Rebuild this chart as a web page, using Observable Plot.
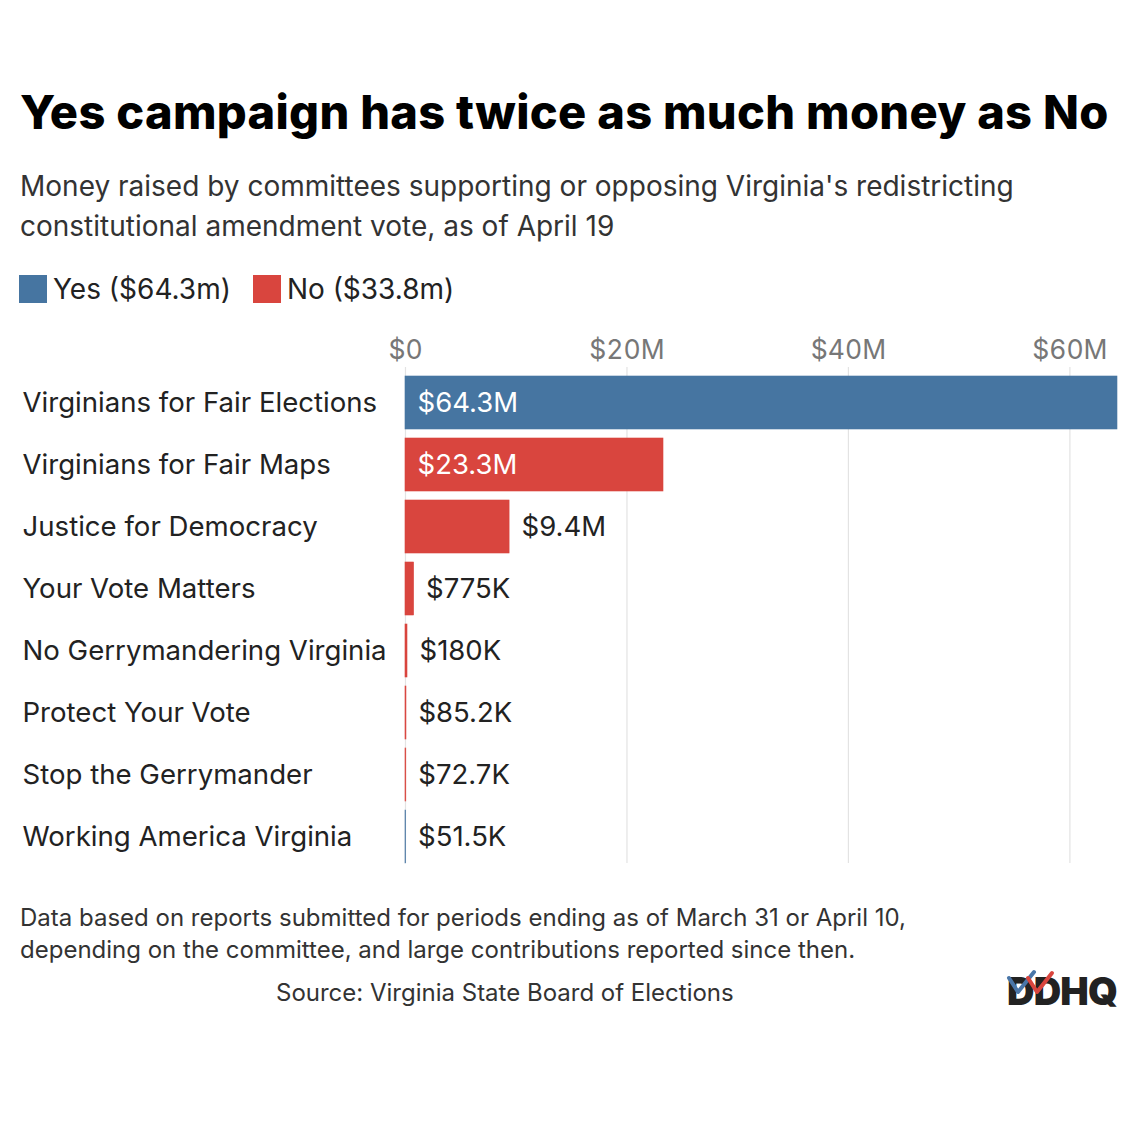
<!DOCTYPE html>
<html>
<head>
<meta charset="utf-8">
<script src="https://cdn.jsdelivr.net/npm/d3@7"></script>
<script src="https://cdn.jsdelivr.net/npm/@observablehq/plot@0.6"></script>
<style>
  html, body { margin: 0; padding: 0; background: #fff; }
  body { width: 1140px; height: 1140px; position: relative; font-family: Inter, "Noto Sans", sans-serif; color: #111; overflow: hidden; }
  .abs { position: absolute; }
  #title { left: 20px; top: 84px; font-size: 47px; font-weight: 800; line-height: 56px; letter-spacing: 0.3px; color: #000; white-space: nowrap; }
  #subtitle { left: 20px; top: 166px; font-size: 28px; line-height: 40px; color: #333; width: 1100px; }
  #legend { left: 19px; top: 273px; font-size: 28px; line-height: 32px; color: #222; display: flex; align-items: center; }
  .sw { display: inline-block; width: 28px; height: 28px; margin-right: 6px; }
  .item { display: flex; align-items: center; margin-right: 22px; }
  #chart { left: 0; top: 320px; }
  #note { left: 20px; top: 902px; font-size: 24px; line-height: 32px; color: #333; }
  #source { left: 276px; top: 977px; font-size: 24px; line-height: 32px; color: #333; }
  #logo { left: 1004px; top: 958px; }
</style>
</head>
<body>
<div id="title" class="abs">Yes campaign has twice as much money as No</div>
<div id="subtitle" class="abs">Money raised by committees supporting or opposing Virginia's redistricting<br>constitutional amendment vote, as of April 19</div>
<div id="legend" class="abs"></div>
<div id="chart" class="abs"></div>
<div id="note" class="abs">Data based on reports submitted for periods ending as of March 31 or April 10,<br>depending on the committee, and large contributions reported since then.</div>
<div id="source" class="abs">Source: Virginia State Board of Elections</div>
<div id="logo" class="abs">
  <svg width="132" height="60" viewBox="0 0 132 60" style="overflow:visible">
    <text x="3" y="47" font-family="Inter, sans-serif" font-weight="900" font-size="38" fill="#222" letter-spacing="-0.8">DDHQ</text>
    <path d="M5 20 L14 34 L30 14" fill="none" stroke="#4a76a8" stroke-width="4" stroke-linecap="round" stroke-linejoin="round"/>
    <path d="M24 20 L33 34 L48 15" fill="none" stroke="#d9453e" stroke-width="4" stroke-linecap="round" stroke-linejoin="round"/>
  </svg>
</div>
<script>
// ---- data ----
const committees = [
  "Virginians for Fair Elections",
  "Virginians for Fair Maps",
  "Justice for Democracy",
  "Your Vote Matters",
  "No Gerrymandering Virginia",
  "Protect Your Vote",
  "Stop the Gerrymander",
  "Working America Virginia"
];
const amountsM = [64.3, 23.3, 9.4, 0.775, 0.180, 0.0852, 0.0727, 0.0515];
const sides = ["Yes", "No", "No", "No", "No", "No", "No", "Yes"];
const valueLabels = ["$64.3M", "$23.3M", "$9.4M", "$775K", "$180K", "$85.2K", "$72.7K", "$51.5K"];
const legendLabels = ["Yes ($64.3m)", "No ($33.8m)"];
const sideNames = ["Yes", "No"];
const sideColors = ["#4675a1", "#d9453e"];
const xTicks = [0, 20, 40, 60];
const xTickLabels = ["$0", "$20M", "$40M", "$60M"];

const rows = committees.map((name, i) => ({
  name, value: amountsM[i], side: sides[i], label: valueLabels[i], inside: amountsM[i] > 15
}));

// legend
const legend = document.getElementById("legend");
sideNames.forEach((s, i) => {
  const it = document.createElement("div");
  it.className = "item";
  it.innerHTML = `<span class="sw" style="background:${sideColors[i]}"></span><span>${legendLabels[i]}</span>`;
  legend.appendChild(it);
});

const chart = Plot.plot({
  width: 1140,
  height: 560,
  marginLeft: 405,
  marginRight: 23,
  marginTop: 47,
  marginBottom: 8,
  style: { fontFamily: "Inter, 'Noto Sans', sans-serif", background: "transparent", overflow: "visible" },
  x: { domain: [0, 64.3], axis: null },
  y: { domain: committees, padding: 0.145, axis: null },
  color: { domain: sideNames, range: sideColors },
  marks: [
    Plot.gridX(xTicks, { stroke: "#e3e3e3", strokeOpacity: 1, strokeWidth: 1.2, insetBottom: 9 }),
    Plot.axisX(xTicks, {
      anchor: "top", tickSize: 0, tickPadding: 9, fontSize: 26.5, fill: "#777",
      tickFormat: (d) => xTickLabels[xTicks.indexOf(d)], label: null
    }),
    Plot.barX(rows, { x: "value", y: "name", fill: "side", stroke: "side", strokeWidth: 0.6 }),
    Plot.text(rows, {
      y: "name", text: "name", frameAnchor: "left", textAnchor: "start", dx: -383,
      fontSize: 27.6, fill: "#222"
    }),
    Plot.text(rows.filter(d => d.inside), {
      x: 0, y: "name", text: "label", textAnchor: "start", dx: 12, fontSize: 27.5, fill: "#fff"
    }),
    Plot.text(rows.filter(d => !d.inside), {
      x: "value", y: "name", text: "label", textAnchor: "start", dx: 12, fontSize: 27.5, fill: "#222"
    })
  ]
});
document.getElementById("chart").appendChild(chart);
</script>
</body>
</html>
